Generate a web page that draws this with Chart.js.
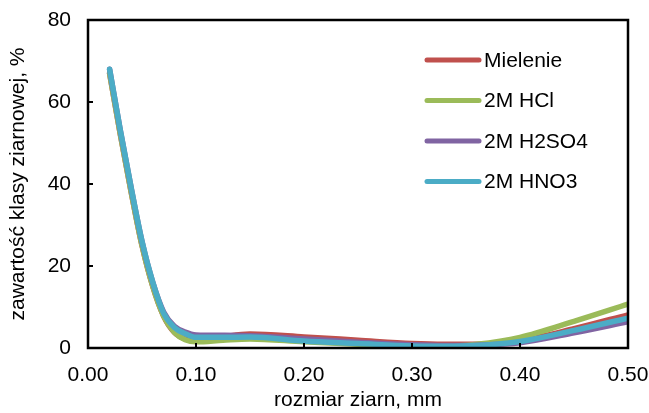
<!DOCTYPE html>
<html>
<head>
<meta charset="utf-8">
<script src="https://cdn.jsdelivr.net/npm/chart.js@4/dist/chart.umd.min.js"></script>
<style>
  html, body { margin: 0; padding: 0; background: #fff; }
  #wrap { width: 649px; height: 413px; }
</style>
</head>
<body>
<div id="wrap"><canvas id="chart"></canvas></div>
<script>
// grain size, mm
const sizes = [0.02, 0.03, 0.04, 0.05, 0.06, 0.07, 0.08, 0.09, 0.10, 0.125, 0.15, 0.20, 0.25, 0.30, 0.33, 0.36, 0.40, 0.45, 0.50];
// share of grain class, %
const mielenie = [67, 52, 38, 25, 15, 7.8, 3.8, 2.2, 1.7, 2.7, 3.4, 2.7, 1.9, 1.1, 0.9, 0.9, 1.8, 4.7, 8.1];
const hcl      = [67, 52, 38, 25, 15, 7.8, 3.8, 2.0, 1.5, 1.9, 2.2, 1.5, 0.9, 0.4, 0.4, 0.9, 2.6, 6.5, 10.7];
const h2so4    = [68, 53, 39, 26, 16, 8.8, 5.3, 3.9, 3.2, 3.1, 3.0, 2.2, 1.4, 0.8, 0.6, 0.7, 1.3, 3.7, 6.4];
const hno3     = [68, 53, 39, 26, 16, 8.5, 5.0, 3.5, 2.6, 2.6, 2.7, 1.7, 1.1, 0.5, 0.4, 0.6, 1.6, 4.3, 7.3];

const seriesLabels = ["Mielenie", "2M HCl", "2M H2SO4", "2M HNO3"];
const seriesColors = ["#C0504D", "#9BBB59", "#8064A2", "#4BACC6"];
const xTicks = [0, 0.1, 0.2, 0.3, 0.4, 0.5];
const yTicks = [0, 20, 40, 60, 80];

const FONT = "'Liberation Sans', Arial, sans-serif";

function pts(values) {
  return values.map((v, i) => ({ x: sizes[i], y: v }));
}

// frame, inward tick marks and in-plot legend
const framePlugin = {
  id: "frame",
  afterDraw(chart) {
    const ctx = chart.ctx;
    const a = chart.chartArea;
    const xs = chart.scales.x, ys = chart.scales.y;
    ctx.save();
    ctx.strokeStyle = "#000";
    ctx.lineWidth = 2.5;
    ctx.strokeRect(a.left, a.top, a.right - a.left, a.bottom - a.top);
    ctx.lineWidth = 2;
    ctx.beginPath();
    xTicks.slice(1, -1).forEach((t) => {
      const px = xs.getPixelForValue(t);
      ctx.moveTo(px, a.bottom);
      ctx.lineTo(px, a.bottom - 5);
    });
    yTicks.slice(1, -1).forEach((t) => {
      const py = ys.getPixelForValue(t);
      ctx.moveTo(a.left, py);
      ctx.lineTo(a.left + 5, py);
    });
    ctx.stroke();

    // legend
    ctx.font = "21px " + FONT;
    ctx.textBaseline = "middle";
    ctx.fillStyle = "#000";
    ctx.lineCap = "round";
    ctx.lineWidth = 5;
    chart.data.datasets.forEach((ds, i) => {
      const y = 60 + i * 40.5;
      ctx.strokeStyle = ds.borderColor;
      ctx.beginPath();
      ctx.moveTo(427, y);
      ctx.lineTo(479, y);
      ctx.stroke();
      ctx.fillText(ds.label, 484, y + 1);
    });
    ctx.restore();
  }
};

const ctx = document.getElementById("chart").getContext("2d");
new Chart(ctx, {
  type: "line",
  data: {
    datasets: [mielenie, hcl, h2so4, hno3].map((vals, i) => ({
      label: seriesLabels[i],
      data: pts(vals),
      borderColor: seriesColors[i],
      backgroundColor: seriesColors[i],
      borderWidth: 5.5,
      borderCapStyle: "round",
      pointRadius: 0,
      fill: false,
      cubicInterpolationMode: "monotone",
      order: 3 - i,
    })),
  },
  options: {
    responsive: true,
    maintainAspectRatio: false,
    animation: false,
    layout: { padding: { left: 0, right: 21, top: 20, bottom: 0 } },
    plugins: {
      legend: { display: false },
      tooltip: { enabled: false },
    },
    scales: {
      x: {
        type: "linear",
        min: 0,
        max: 0.5,
        afterBuildTicks: (s) => { s.ticks = xTicks.map((v) => ({ value: v })); },
        afterFit: (s) => {
          s.height = 65;
          s.paddingLeft = 0;
          s.paddingRight = 0;
        },
        ticks: {
          color: "#000",
          font: { family: FONT, size: 21 },
          padding: 15,
          maxRotation: 0,
          callback: (v) => Number(v).toFixed(2),
        },
        grid: { display: false, drawTicks: false },
        border: { display: false },
        title: {
          display: true,
          text: "rozmiar ziarn, mm",
          color: "#000",
          font: { family: FONT, size: 21 },
          padding: { top: 0, bottom: 0 },
        },
      },
      y: {
        min: 0,
        max: 80,
        afterBuildTicks: (s) => { s.ticks = yTicks.map((v) => ({ value: v })); },
        afterFit: (s) => {
          s.width = 88;
          s.paddingTop = 0;
          s.paddingBottom = 0;
        },
        ticks: {
          color: "#000",
          font: { family: FONT, size: 21 },
          padding: 17,
        },
        grid: { display: false, drawTicks: false },
        border: { display: false },
        title: {
          display: true,
          text: "zawartość klasy ziarnowej, %",
          color: "#000",
          font: { family: FONT, size: 21 },
          padding: { top: 6, bottom: 0 },
        },
      },
    },
  },
  plugins: [framePlugin],
});
</script>
</body>
</html>
